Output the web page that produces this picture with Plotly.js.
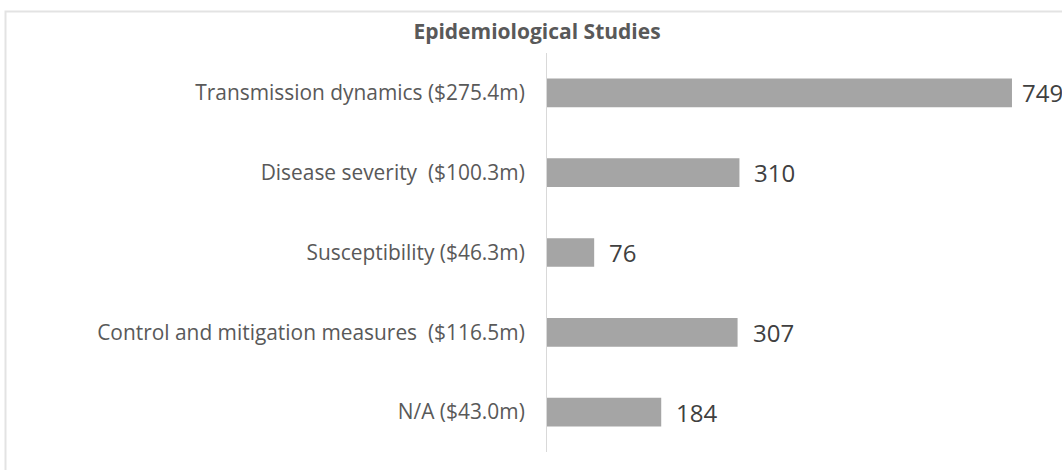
<!DOCTYPE html>
<html>
<head>
<meta charset="utf-8">
<script src="https://cdn.plot.ly/plotly-3.0.1.min.js"></script>
<style>
html,body{margin:0;padding:0;background:#fff;}
#chart{width:1062px;height:470px;}
</style>
</head>
<body>
<div id="chart"></div>
<script>
const categories = [
  "Transmission dynamics ($275.4m)",
  "Disease severity\u00a0 ($100.3m)",
  "Susceptibility ($46.3m)",
  "Control and mitigation measures\u00a0 ($116.5m)",
  "N/A ($43.0m)"
];
const studyCounts = [749, 310, 76, 307, 184];
const chartTitle = "Epidemiological Studies";

const FONT = "'Open Sans', 'Noto Sans', sans-serif";
const xMax = 829.6;

const trace = {
  type: "bar",
  orientation: "h",
  x: studyCounts,
  y: categories,
  marker: {color: "#a5a5a5", line: {width: 0}},
  width: 0.36,
  hoverinfo: "x+y"
};

const maxVal = Math.max(...studyCounts);
const annotations = studyCounts.map((v, i) => ({
  x: v, y: categories[i], xref: "x", yref: "y",
  text: String(v), showarrow: false,
  xanchor: "left", yanchor: "middle",
  xshift: v === maxVal ? 8 : 13,
  font: {family: FONT, size: 24, color: "#404040"}
}));

const layout = {
  width: 1062, height: 470,
  margin: {l: 547, r: 0, t: 52.5, b: 17.5},
  paper_bgcolor: "#ffffff", plot_bgcolor: "#ffffff",
  showlegend: false,
  title: {
    text: "<b>" + chartTitle + "</b>",
    font: {family: FONT, size: 21, color: "#595959"},
    x: 537 / 1062, xref: "container", xanchor: "center",
    y: 1 - 32/470, yref: "container", yanchor: "middle"
  },
  xaxis: {
    range: [0, xMax], showgrid: false, zeroline: false,
    showticklabels: false, showline: false, fixedrange: true
  },
  yaxis: {
    type: "category", categoryarray: categories, categoryorder: "array",
    range: [4.5, -0.5], showgrid: false, zeroline: false,
    showline: true, linecolor: "#d9d9d9", linewidth: 1,
    ticks: "outside", ticklen: 17, tickcolor: "rgba(0,0,0,0)",
    tickfont: {family: FONT, size: 20.9, color: "#595959"},
    fixedrange: true
  },
  annotations: annotations,
  shapes: [{
    type: "rect", xref: "paper", yref: "paper",
    x0: (5.5 - 547) / 515, x1: 1.2,
    y0: -0.2, y1: (452.5 - 11) / 400,
    line: {color: "#e3e3e3", width: 2},
    fillcolor: "rgba(0,0,0,0)", layer: "below"
  }]
};

Plotly.newPlot("chart", [trace], layout, {displayModeBar: false, staticPlot: true});
</script>
</body>
</html>
